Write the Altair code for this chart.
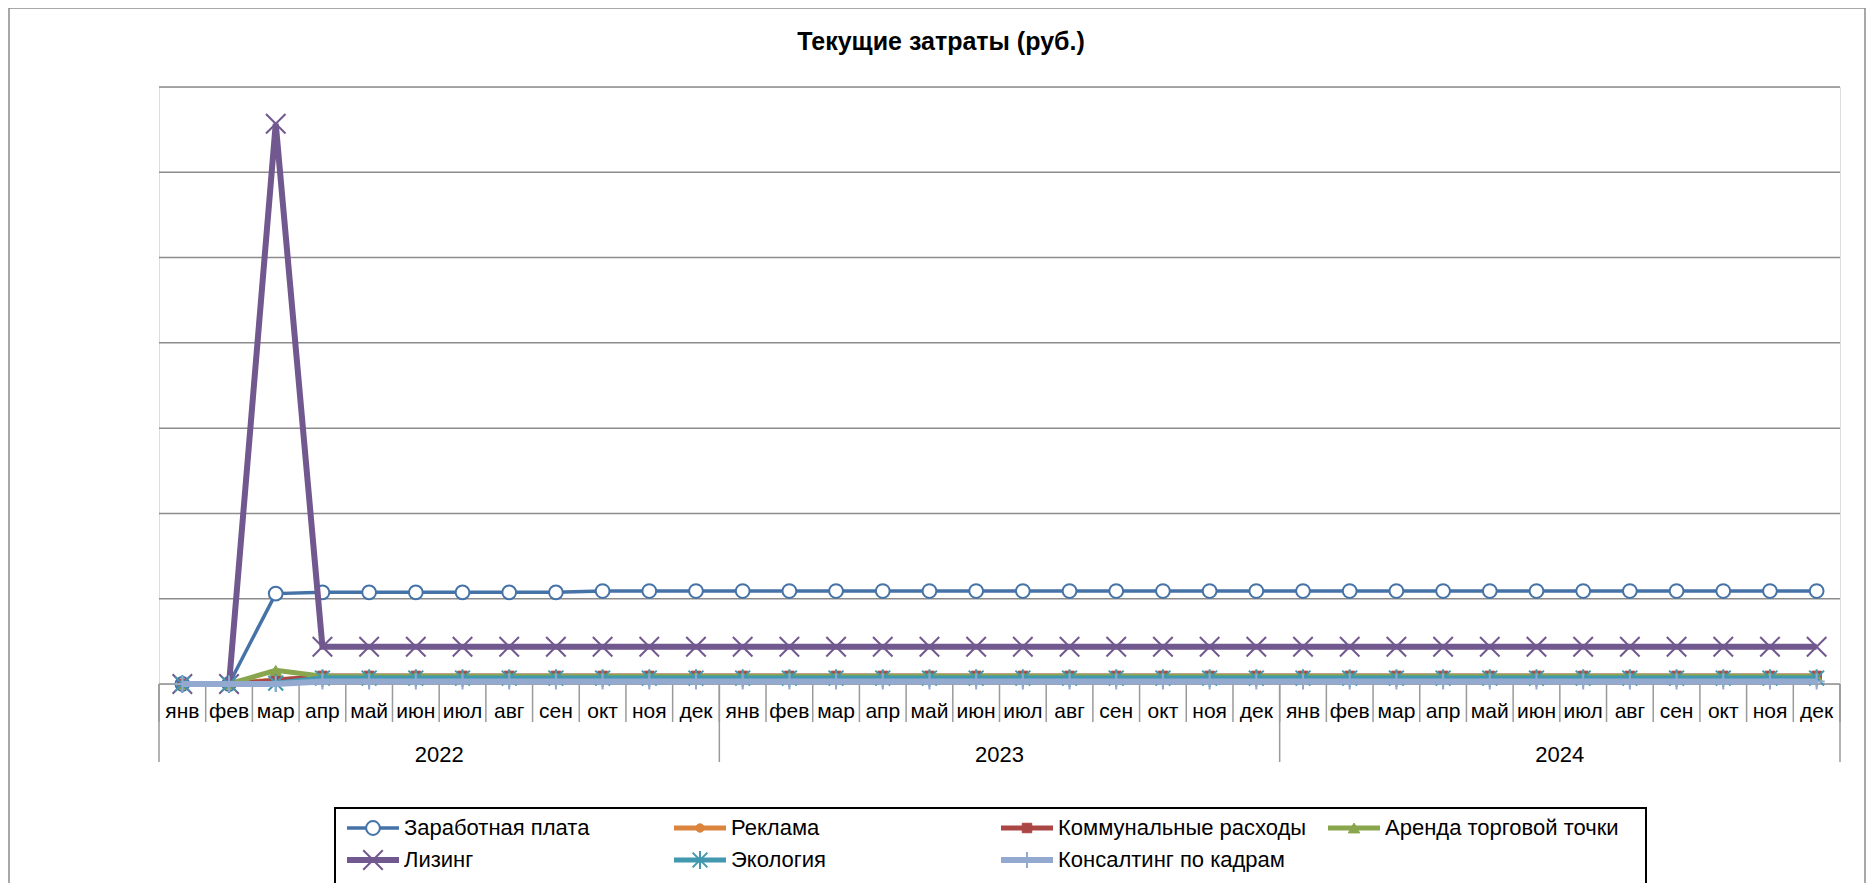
import altair as alt
import pandas as pd

months = ["янв", "фев", "мар", "апр", "май", "июн", "июл", "авг", "сен", "окт", "ноя", "дек"]
years = ["2022", "2023", "2024"]
title_text = "Текущие затраты (руб.)"

series_names = [
    "Заработная плата", "Реклама", "Коммунальные расходы", "Аренда торговой точки",
    "Лизинг", "Экология", "Консалтинг по кадрам",
]

salary = [0, 0, 106000, 107500, 107500, 107500, 107500, 107500, 107500, 109000, 109000, 109000,
          109000, 109000, 109000, 109000, 109000, 109000, 109000, 109000, 109000, 109000, 109000, 109000,
          109000, 109000, 109000, 109000, 109000, 109000, 109000, 109000, 109000, 109000, 109000, 109000]
reklama = [0, 0, 5000, 8000, 8000, 8000, 8000, 8000, 8000, 8000, 8000, 8000,
           8000, 8000, 8000, 8000, 8000, 8000, 8000, 8000, 8000, 8000, 8000, 8000,
           8000, 8000, 8000, 8000, 8000, 8000, 8000, 8000, 8000, 8000, 8000, 8000]
kommunal = [0, 0, 4000, 9500, 9500, 9500, 9500, 9500, 9500, 9500, 9500, 9500,
            9500, 9500, 9500, 9500, 9500, 9500, 9500, 9500, 9500, 9500, 9500, 9500,
            9500, 9500, 9500, 9500, 9500, 9500, 9500, 9500, 9500, 9500, 9500, 9500]
arenda = [0, 0, 16000, 9000, 9000, 9000, 9000, 9000, 9000, 9000, 9000, 9000,
          9000, 9000, 9000, 9000, 9000, 9000, 9000, 9000, 9000, 9000, 9000, 9000,
          9000, 9000, 9000, 9000, 9000, 9000, 9000, 9000, 9000, 9000, 9000, 9000]
lizing = [0, 0, 657000, 43700, 43700, 43700, 43700, 43700, 43700, 43700, 43700, 43700,
          43700, 43700, 43700, 43700, 43700, 43700, 43700, 43700, 43700, 43700, 43700, 43700,
          43700, 43700, 43700, 43700, 43700, 43700, 43700, 43700, 43700, 43700, 43700, 43700]
ecology = [0, 0, 1000, 7000, 7000, 7000, 7000, 7000, 7000, 7000, 7000, 7000,
           7000, 7000, 7000, 7000, 7000, 7000, 7000, 7000, 7000, 7000, 7000, 7000,
           7000, 7000, 7000, 7000, 7000, 7000, 7000, 7000, 7000, 7000, 7000, 7000]
consult = [0, 0, 0, 3000, 3000, 3000, 3000, 3000, 3000, 3000, 3000, 3000,
           3000, 3000, 3000, 3000, 3000, 3000, 3000, 3000, 3000, 3000, 3000, 3000,
           3000, 3000, 3000, 3000, 3000, 3000, 3000, 3000, 3000, 3000, 3000, 3000]

y_ticks = [0, 100000, 200000, 300000, 400000, 500000, 600000, 700000]

series_values = [salary, reklama, kommunal, arenda, lizing, ecology, consult]

colors = ["#4572A7", "#DB843D", "#AA4643", "#89A54E", "#71588F", "#4198AF", "#93A9CF"]
line_widths = [3.5, 5, 5, 5, 6, 5, 6]
X_PATH = "M-1,-1L1,1M-1,1L1,-1"
AST_PATH = "M-1,-1L1,1M-1,1L1,-1M0,-1.2L0,1.2"
PLUS_PATH = "M-1,0L1,0M0,-1L0,1"
markers = [
    dict(shape="circle", filled=True, fill="white", size=190, strokeWidth=2),
    dict(shape="circle", filled=True, size=70, strokeWidth=1),
    dict(shape="square", filled=True, size=90, strokeWidth=1),
    dict(shape="triangle-up", filled=True, size=130, strokeWidth=1),
    dict(shape=X_PATH, filled=False, size=380, strokeWidth=2),
    dict(shape=AST_PATH, filled=False, size=220, strokeWidth=2),
    dict(shape=PLUS_PATH, filled=False, size=260, strokeWidth=2),
]

W, H = 1681, 597
FONT = "Liberation Sans"

n = len(months) * len(years)
x_scale = alt.Scale(domain=[-0.5, n - 0.5], nice=False, zero=False)
y_scale = alt.Scale(domain=[y_ticks[0], y_ticks[-1]], nice=False)

layers = []

# grid layer
grid_df = pd.DataFrame({"v": y_ticks})
layers.append(
    alt.Chart(grid_df).mark_rule(color="#8C8C8C", strokeWidth=1.5).encode(
        y=alt.Y("v:Q", scale=y_scale, axis=None)
    )
)

# axis category separators and labels
sep_df = pd.DataFrame({"b": [i - 0.5 for i in range(n + 1)]})
layers.append(
    alt.Chart(sep_df).mark_rule(color="#9A9A9A", strokeWidth=1.5).encode(
        x=alt.X("b:Q", scale=x_scale, axis=None), y=alt.value(H), y2=alt.value(H + 38)
    )
)
ysep_df = pd.DataFrame({"b": [k * len(months) - 0.5 for k in range(len(years) + 1)]})
layers.append(
    alt.Chart(ysep_df).mark_rule(color="#9A9A9A", strokeWidth=1.5).encode(
        x=alt.X("b:Q", scale=x_scale, axis=None), y=alt.value(H), y2=alt.value(H + 78)
    )
)
mlab_df = pd.DataFrame({"i": list(range(n)), "m": [months[i % len(months)] for i in range(n)]})
layers.append(
    alt.Chart(mlab_df).mark_text(font=FONT, fontSize=21, color="black", baseline="middle").encode(
        x=alt.X("i:Q", scale=x_scale, axis=None), y=alt.value(H + 28), text="m:N"
    )
)
ylab_df = pd.DataFrame({"c": [k * len(months) + (len(months) - 1) / 2 for k in range(len(years))], "t": years})
layers.append(
    alt.Chart(ylab_df).mark_text(font=FONT, fontSize=22, color="black", baseline="middle").encode(
        x=alt.X("c:Q", scale=x_scale, axis=None), y=alt.value(H + 71), text="t:N"
    )
)

# series
rows = []
for s, (name, vals) in enumerate(zip(series_names, series_values)):
    for i, v in enumerate(vals):
        rows.append({"s": name, "i": i, "v": v})
df = pd.DataFrame(rows)

leg_x0, leg_dx = 188, 327
leg_y0, leg_dy = 741, 32
for s, name in enumerate(series_names):
    d = df[df["s"] == name]
    c = colors[s]
    layers.append(
        alt.Chart(d).mark_line(color=c, strokeWidth=line_widths[s]).encode(
            x=alt.X("i:Q", scale=x_scale, axis=None), y=alt.Y("v:Q", scale=y_scale, axis=None)
        )
    )
    mk = dict(markers[s])
    if "fill" not in mk and mk["filled"]:
        mk["fill"] = c
    layers.append(
        alt.Chart(d).mark_point(stroke=c, opacity=1, **mk).encode(
            x=alt.X("i:Q", scale=x_scale, axis=None), y=alt.Y("v:Q", scale=y_scale, axis=None)
        )
    )
    # legend entry
    col, row = s % 4, s // 4
    lx = leg_x0 + col * leg_dx
    ly = leg_y0 + row * leg_dy
    ld = pd.DataFrame({"s": [name]})
    layers.append(
        alt.Chart(ld).mark_rule(color=c, strokeWidth=line_widths[s]).encode(
            x=alt.value(lx), x2=alt.value(lx + 52), y=alt.value(ly)
        )
    )
    layers.append(
        alt.Chart(ld).mark_point(stroke=c, opacity=1, **mk).encode(
            x=alt.value(lx + 26), y=alt.value(ly)
        )
    )
    layers.append(
        alt.Chart(ld).mark_text(font=FONT, fontSize=22, align="left", baseline="middle", color="black").encode(
            x=alt.value(lx + 57), y=alt.value(ly), text="s:N"
        )
    )

box_df = pd.DataFrame({"k": [0]})
layers.append(
    alt.Chart(box_df).mark_rect(filled=False, stroke="black", strokeWidth=2).encode(
        x=alt.value(176), x2=alt.value(1487), y=alt.value(721), y2=alt.value(803)
    )
)
layers.append(
    alt.Chart(box_df).mark_rect(filled=False, stroke="#8C8C8C", strokeWidth=1.5).encode(
        x=alt.value(-150), x2=alt.value(1706), y=alt.value(-79), y2=alt.value(830)
    )
)

title_df = pd.DataFrame({"t": [title_text]})
layers.append(
    alt.Chart(title_df).mark_text(font=FONT, fontSize=25, fontWeight="bold", color="black",
                                  align="center", baseline="middle").encode(
        x=alt.value(782), y=alt.value(-45), text="t:N"
    )
)

chart = alt.layer(*layers).properties(
    width=W,
    height=H,
    autosize=alt.AutoSizeParams(type="none"),
    padding={"left": 151, "top": 79, "right": 26, "bottom": 199},
).configure_view(strokeWidth=0).configure(background="white")

chart.save("out.html", embed_options={"renderer": "svg", "actions": False})
